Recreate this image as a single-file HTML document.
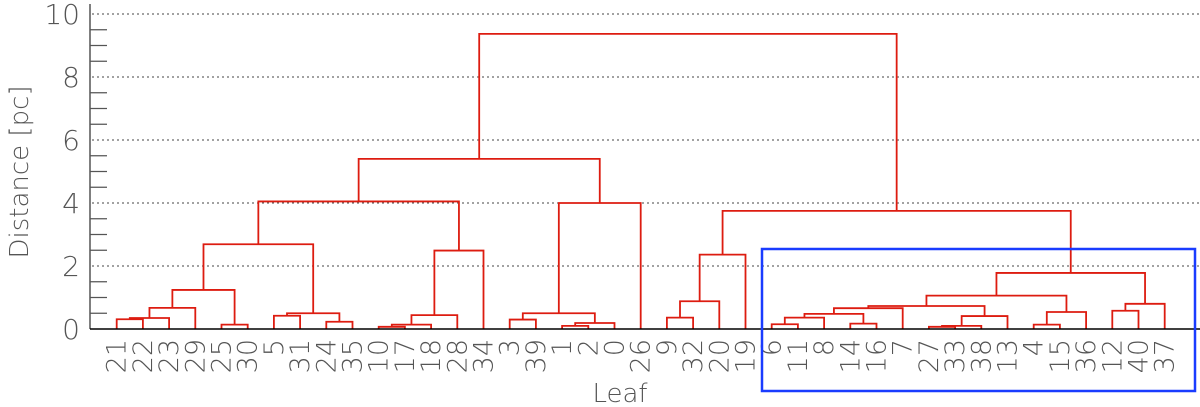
<!DOCTYPE html>
<html><head><meta charset="utf-8"><style>
html,body{margin:0;padding:0;background:#fff;}
svg{display:block;font-family:"DejaVu Sans","Liberation Sans",sans-serif;}
</style></head><body>
<svg id="chart" width="1200" height="407" viewBox="0 0 1200 407" xmlns="http://www.w3.org/2000/svg">
<g id="grid"></g>
<g id="axis"></g>
<g id="tree"></g>
<g id="labels"></g>
<line x1="90" y1="329" x2="1200" y2="329" stroke="#000" stroke-width="1.5"/>
<rect x="762" y="249" width="433" height="142" fill="none" stroke="#1a3cff" stroke-width="2.5"/>
<text x="620" y="402" font-size="26" fill="#555" text-anchor="middle" font-weight="200">Leaf</text>
<text transform="translate(28,172) rotate(-90)" font-size="26" fill="#555" text-anchor="middle" font-weight="200">Distance [pc]</text>
</svg>
<script>
const leafOrder = ["21","22","23","29","25","30","5","31","24","35","10","17","18","28","34","3","39","1","2","0","26","9","32","20","19","6","11","8","14","16","7","27","33","38","13","4","15","36","12","40","37"];
const mergeLeft  = ["21","m0","m1","25","m2","5","24","m5","m4","10","m9","m10","m11","m8","3","1","m15","m14","m17","m13","9","m20","m21","6","m23","14","m24","m26","27","m28","m29","m27","4","m32","m31","12","m35","m34","m22","m19"];
const mergeRight = ["22","23","29","30","m3","31","35","m6","m7","17","18","28","34","m12","39","2","0","m16","26","m18","32","20","19","11","8","16","m25","7","33","38","13","m30","15","36","m33","40","37","m36","m37","m38"];
const mergeHeight= [0.31,0.35,0.67,0.14,1.24,0.42,0.23,0.5,2.69,0.07,0.14,0.44,2.49,4.05,0.3,0.1,0.19,0.5,4.0,5.4,0.36,0.88,2.36,0.15,0.36,0.17,0.48,0.66,0.07,0.1,0.41,0.73,0.14,0.54,1.06,0.58,0.8,1.78,3.75,9.37];
const yTicks = [0,2,4,6,8,10];

const NS="http://www.w3.org/2000/svg";
const X0=116.7, DX=26.2, Y0=329, KY=31.5;
const xLeaf=i=>X0+DX*i;
const yVal=v=>Y0-v*KY;
function mk(tag,attrs,parent){const e=document.createElementNS(NS,tag);for(const k in attrs)e.setAttribute(k,attrs[k]);parent.appendChild(e);return e;}

const grid=document.getElementById('grid'), axis=document.getElementById('axis');
mk('line',{x1:90,y1:4,x2:90,y2:329,stroke:'#555','stroke-width':1.5},axis);
for(let v=0;v<=10;v+=0.5){
  const y=yVal(v);
  if(Number.isInteger(v/2)){
    if(v>0){const g=mk('line',{x1:92,y1:y,x2:1200,y2:y,stroke:'#444','stroke-width':1,'stroke-dasharray':'2,3'},grid);
    
    }
  } else {
    const t=mk('line',{x1:90,y1:y,x2:107,y2:y,stroke:'#555','stroke-width':1.3},axis);
    
    
  }
}
yTicks.forEach(v=>{
  const t=mk('text',{x:80,y:yVal(v)+10,'font-size':28,fill:'#555','text-anchor':'end','font-weight':'200'},axis);
  t.textContent=v;
  
  
});

const pos={},hgt={};
leafOrder.forEach((l,i)=>{pos[l]=xLeaf(i);hgt[l]=0;});
const tree=document.getElementById('tree');
mergeHeight.forEach((h,i)=>{
  const a=mergeLeft[i], b=mergeRight[i];
  const xa=pos[a], xb=pos[b], yh=yVal(h);
  const p=mk('path',{d:`M${xa},${yVal(hgt[a])}V${yh}H${xb}V${yVal(hgt[b])}`,fill:'none',stroke:'#dd1c10','stroke-width':1.8},tree);
  
  
  pos['m'+i]=(xa+xb)/2; hgt['m'+i]=h;
});

const labels=document.getElementById('labels');
leafOrder.forEach((l,i)=>{
  const x=xLeaf(i)+9;
  const t=mk('text',{transform:`translate(${x},339) rotate(-90)`,'font-size':27,fill:'#555','text-anchor':'end','font-weight':'200'},labels);
  t.textContent=l;
  
  
});
</script>
</body></html>
